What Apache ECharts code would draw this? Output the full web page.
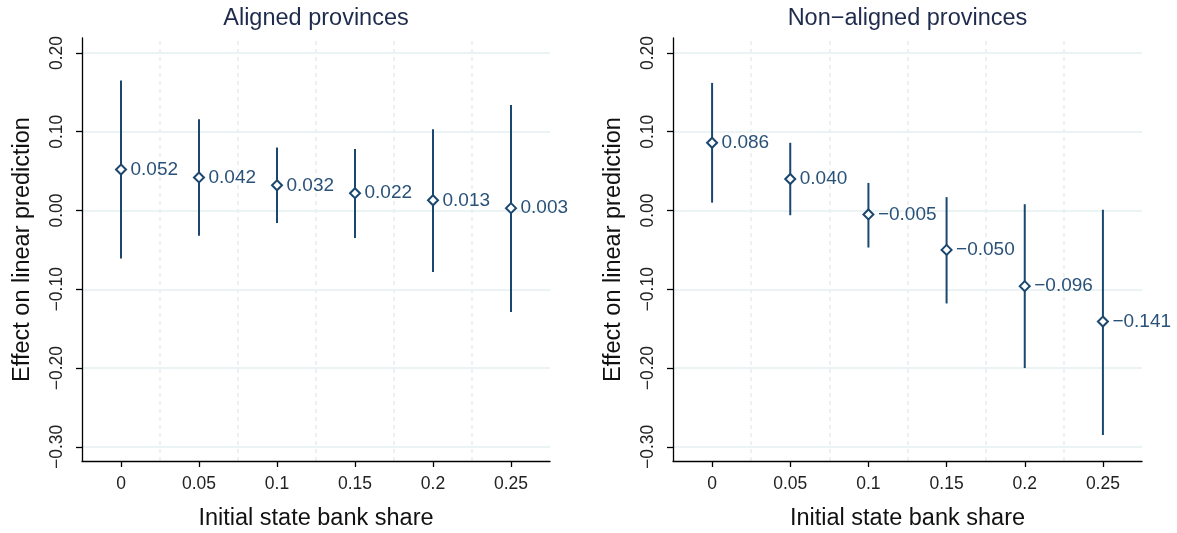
<!DOCTYPE html>
<html>
<head>
<meta charset="utf-8">
<script src="https://cdn.jsdelivr.net/npm/echarts@6/dist/echarts.min.js"></script>
<style>
html,body{margin:0;padding:0;background:#fff;}
#c{width:1177px;height:533px;}
</style>
</head>
<body>
<div id="c"></div>
<script>
const xTicks = [0, 0.05, 0.1, 0.15, 0.2, 0.25];
const xTickLabels = ['0', '0.05', '0.1', '0.15', '0.2', '0.25'];
const yTicks = [-0.3, -0.2, -0.1, 0, 0.1, 0.2];
const xDividers = [0.025, 0.075, 0.125, 0.175, 0.225];
const panelTitles = ['Aligned provinces', 'Non\u2212aligned provinces'];

const alignedEst  = [0.052, 0.042, 0.032, 0.022, 0.013, 0.003];
const alignedLow  = [-0.061, -0.032, -0.016, -0.035, -0.078, -0.129];
const alignedHigh = [0.165, 0.116, 0.080, 0.078, 0.103, 0.134];

const nonEst  = [0.086, 0.040, -0.005, -0.050, -0.096, -0.141];
const nonLow  = [0.010, -0.006, -0.047, -0.118, -0.200, -0.285];
const nonHigh = [0.162, 0.086, 0.035, 0.017, 0.008, 0.001];

const FONT = '"Liberation Sans", Arial, Helvetica, sans-serif';
const NAVY = '#1a476f';
const LABEL = '#2a5279';
const GRID = '#e6eff1';

function minus(s){ return s.replace('-', '\u2212'); }

const grids = [
  {left: 82, top: 38, width: 468, height: 423, containLabel: false, outerBoundsMode: 'none'},
  {left: 673, top: 38, width: 469, height: 423, containLabel: false, outerBoundsMode: 'none'}
];

function xAxisFor(i){
  return {
    type: 'value', gridIndex: i, min: -0.025, max: 0.275,
    name: 'Initial state bank share', nameLocation: 'middle', nameGap: 46,
    nameTextStyle: {fontFamily: FONT, fontSize: 23.5, color: '#111'},
    axisLine: {show: true, onZero: false, lineStyle: {color: '#000', width: 1.3}},
    axisTick: {show: true, length: 6, lineStyle: {color: '#000', width: 1.3}, customValues: xTicks},
    axisLabel: {fontFamily: FONT, fontSize: 17.5, color: '#222', margin: 14, customValues: xTicks,
      formatter: v => { const k = xTicks.findIndex(t => Math.abs(t - v) < 1e-9); return k >= 0 ? xTickLabels[k] : ''; }},
    splitLine: {show: false}
  };
}
function yAxisFor(i){
  return {
    type: 'value', gridIndex: i, min: -0.318, max: 0.219,
    name: 'Effect on linear prediction', nameLocation: 'middle', nameGap: 47,
    nameTextStyle: {fontFamily: FONT, fontSize: 23.5, color: '#111'},
    axisLine: {show: true, onZero: false, lineStyle: {color: '#000', width: 1.3}},
    axisTick: {show: true, length: 6, lineStyle: {color: '#000', width: 1.3}, customValues: yTicks},
    axisLabel: {fontFamily: FONT, fontSize: 17.5, color: '#222', margin: 16, rotate: 90, customValues: yTicks,
      formatter: v => minus(Number(v).toFixed(2))},
    splitLine: {show: false}
  };
}

function panelSeries(i, est, low, high){
  const bars = xTicks.map((x, k) => [x, low[k], high[k]]);
  const pts = xTicks.map((x, k) => [x, est[k]]);
  return [
    {
      type: 'scatter', xAxisIndex: i, yAxisIndex: i, data: [], z: 1, silent: true,
      markLine: {
        silent: true, symbol: 'none', animation: false, precision: 6, z: 0,
        label: {show: false},
        data: yTicks.map(v => ({yAxis: v, lineStyle: {color: GRID, width: 1.6, type: 'solid'}}))
          .concat(xDividers.map(v => ({xAxis: v, lineStyle: {color: GRID, width: 1.6, type: [4, 4]}})))
      }
    },
    {
      type: 'custom', xAxisIndex: i, yAxisIndex: i, data: bars, z: 3, silent: true,
      renderItem: (params, api) => {
        const a = api.coord([api.value(0), api.value(1)]);
        const b = api.coord([api.value(0), api.value(2)]);
        return {type: 'line', shape: {x1: a[0], y1: a[1], x2: b[0], y2: b[1]},
          style: {stroke: NAVY, lineWidth: 2}};
      }
    },
    {
      type: 'scatter', xAxisIndex: i, yAxisIndex: i, data: pts, z: 4, silent: true,
      symbol: 'diamond', symbolSize: [10, 10],
      itemStyle: {color: '#fff', borderColor: NAVY, borderWidth: 2, opacity: 1},
      label: {show: true, position: 'right', distance: 3.5, fontFamily: FONT, fontSize: 19, color: LABEL,
        formatter: p => minus(p.value[1].toFixed(3))}
    }
  ];
}

const chart = echarts.init(document.getElementById('c'), null, {renderer: 'canvas'});
chart.setOption({
  animation: false,
  backgroundColor: '#fff',
  title: panelTitles.map((t, i) => ({
    text: t, left: grids[i].left + grids[i].width / 2, textAlign: 'center', top: 7, padding: 0,
    textStyle: {fontFamily: FONT, fontSize: 23.5, fontWeight: 'normal', color: '#1e2b4d'}
  })),
  grid: grids,
  xAxis: [xAxisFor(0), xAxisFor(1)],
  yAxis: [yAxisFor(0), yAxisFor(1)],
  series: panelSeries(0, alignedEst, alignedLow, alignedHigh)
    .concat(panelSeries(1, nonEst, nonLow, nonHigh))
});
</script>
</body>
</html>
